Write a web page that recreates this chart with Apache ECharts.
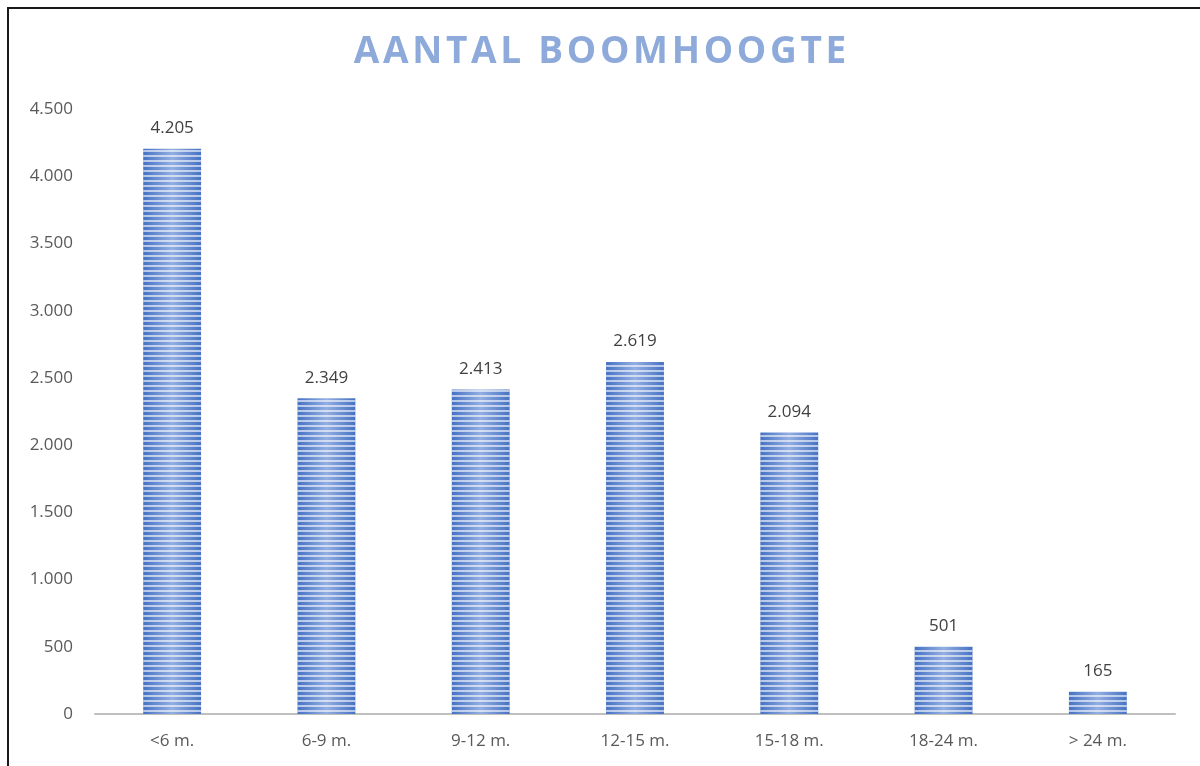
<!DOCTYPE html>
<html><head><meta charset="utf-8">
<script src="https://cdn.jsdelivr.net/npm/echarts@6/dist/echarts.min.js"></script>
<style>html,body{margin:0;padding:0;background:#fff}#c{width:1200px;height:766px}</style>
</head><body><div id="c"></div>
<script>
const categories = ['<6 m.', '6-9 m.', '9-12 m.', '12-15 m.', '15-18 m.', '18-24 m.', '> 24 m.'];
const values = [4205, 2349, 2413, 2619, 2094, 501, 165];
const titleText = 'AANTAL BOOMHOOGTE';

function fmt(v){ return String(v).replace(/\B(?=(\d{3})+(?!\d))/g, '.'); }

const chart = echarts.init(document.getElementById('c'), null, {renderer:'canvas'});
chart.setOption({
  animation: false,
  backgroundColor: '#fff',
  title: {
    text: titleText.split('').join('\u200A'),
    left: 'center', top: 29,
    textStyle: { color: '#8eaadb', fontSize: 37, fontWeight: 'bold', fontFamily: 'Open Sans' }
  },
  graphic: [{
    type: 'rect', shape: { x: 8, y: 8, width: 1400, height: 1000 },
    style: { fill: 'none', stroke: '#1a1a1a', lineWidth: 2 }, silent: true
  }],
  grid: { left: 95, right: 25, top: 109, bottom: 52, containLabel: false },
  xAxis: {
    type: 'category', data: categories,
    axisLine: { lineStyle: { color: '#bfbfbf', width: 2 } },
    axisTick: { show: false },
    axisLabel: { color: '#595959', fontSize: 17, fontFamily: 'Open Sans', margin: 19 }
  },
  yAxis: {
    type: 'value', min: 0, max: 4500, interval: 500,
    axisLine: { show: false }, axisTick: { show: false }, splitLine: { show: false },
    axisLabel: { color: '#595959', fontSize: 17, fontFamily: 'Open Sans', margin: 22, formatter: fmt }
  },
  series: [{
    type: 'bar', data: values, barWidth: '37.5%',
    itemStyle: {
      color: { type: 'linear', x: 0, y: 0, x2: 1, y2: 0, colorStops: [
        { offset: 0, color: '#4672c4' }, { offset: 0.5, color: '#93aee2' }, { offset: 1, color: '#4672c4' }
      ] },
      decal: { symbol: 'rect', symbolSize: 1, dashArrayX: [1, 0], dashArrayY: [2, 3], rotation: 0, color: 'rgba(255,255,255,0.6)' }
    },
    label: { show: true, position: 'top', distance: 12, color: '#404040', fontSize: 17, fontFamily: 'Open Sans', formatter: p => fmt(p.value) }
  }]
});
</script></body></html>
